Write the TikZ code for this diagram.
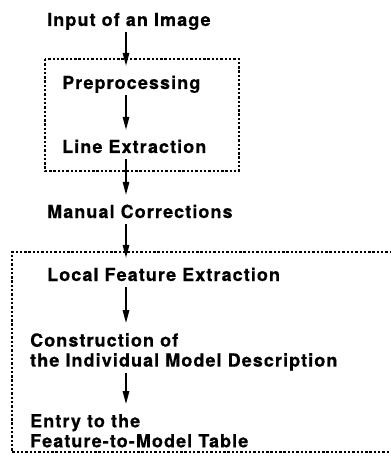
\documentclass[tikz,border=0pt]{standalone}
\usepackage{fontspec}
\setmainfont{TeX Gyre Heros}[LetterSpace=6, BoldFeatures={FakeBold=0.6}]
\usetikzlibrary{arrows.meta}
\begin{document}
\begin{tikzpicture}[x=1pt,y=-1pt,
  stage/.style={inner sep=0pt, anchor=base west, text height=13pt, text depth=4pt,
    font=\fontsize{18}{20}\selectfont\bfseries},
  stage2/.style={inner sep=0pt, anchor=north west, align=left,
    font=\fontsize{18}{20}\selectfont\bfseries},
  flow/.style={line width=1.6pt, -{Triangle[length=13pt,width=6.5pt]},
    shorten <=2pt, shorten >=10pt},
  group/.style={line width=1.3pt, dash pattern=on 2.4pt off 1.9pt}]
  \useasboundingbox (0,0) rectangle (390,462);
  \coordinate (xa) at (126,0);

  % stages of the procedure
  \node[stage] (input)  at (47,26)  {Input of an Image};
  \node[stage] (prep)   at (62,89)  {Preprocessing};
  \node[stage] (line)   at (62,153) {Line Extraction};
  \node[stage] (manual) at (47,218) {Manual Corrections};
  \node[stage] (local)  at (47,281) {Local Feature Extraction};
  \node[stage2] (constr) at (30,333) {Construction of\\the Individual Model Description};
  \node[stage2] (entry)  at (30,414) {Entry to the\\Feature-to-Model Table};

  % dotted groupings
  \draw[group] (45,59) rectangle (239,171);
  \draw[group] (392,252) -- (12,252) -- (12,452) -- (392,452);

  % flow arrows
  \draw[flow] (input.south -| xa)  -- (prep.north -| xa);
  \draw[flow] (prep.south -| xa)   -- (line.north -| xa);
  \draw[flow] (line.south -| xa)   -- (manual.north -| xa);
  \draw[flow] (manual.south -| xa) -- (local.north -| xa);
  \draw[flow] (local.south -| xa)  -- (constr.north -| xa);
  \draw[flow] (constr.south -| xa) -- (entry.north -| xa);
\end{tikzpicture}
\end{document}
